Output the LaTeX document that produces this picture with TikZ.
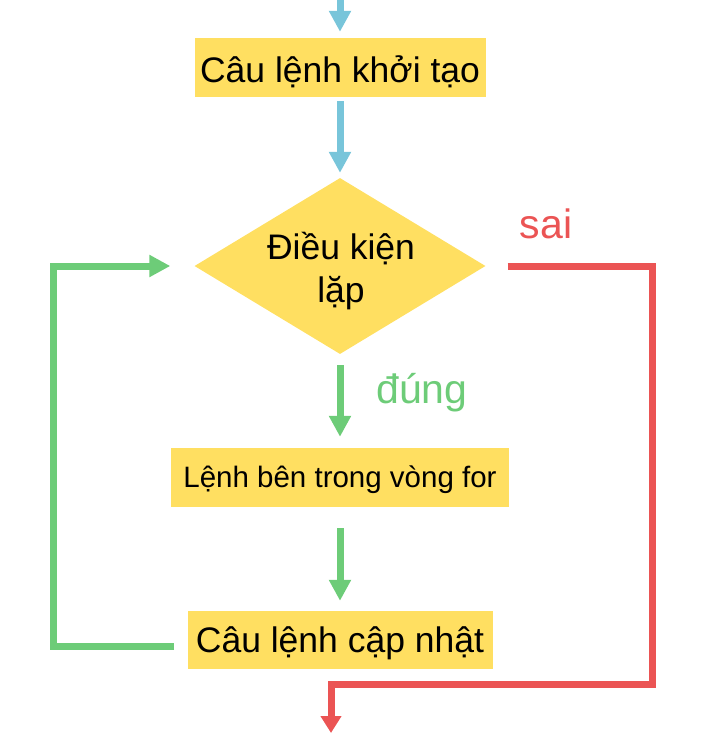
\documentclass[tikz,border=0pt]{standalone}
\usepackage{fontspec}
\setmainfont{Liberation Sans}
\usetikzlibrary{arrows.meta,shapes.geometric}
\definecolor{boxyellow}{HTML}{FFDF61}
\definecolor{arrowblue}{HTML}{78C5DA}
\definecolor{arrowgreen}{HTML}{6DCC78}
\definecolor{arrowred}{HTML}{EB5454}
\begin{document}
\begin{tikzpicture}[x=1pt,y=-1pt,
  bigtext/.style={font=\fontsize{35.5}{42}\selectfont},
  smalltext/.style={font=\fontsize{29.5}{35}\selectfont},
  labeltext/.style={font=\fontsize{41}{48}\selectfont, anchor=base},
  stepbox/.style={fill=boxyellow, inner sep=0pt, text depth=0pt},
  flow/.style={line width=7pt, line join=miter, -{Triangle[length=21pt,width=21pt]}},
  redflow/.style={line width=7pt, line join=miter, draw=arrowred, -{Triangle[length=17pt,width=20pt]}}
]
\useasboundingbox (0,0) rectangle (727,734);

% boxes
\node[stepbox, bigtext, minimum width=291pt, minimum height=59pt, text height=29pt] (init) at (340,67.5) {Câu lệnh khởi tạo};
\node[diamond, fill=boxyellow, inner sep=0pt, minimum width=291pt, minimum height=176pt] (cond) at (340,266) {};
\node[bigtext, anchor=base] (condA) at (341,259) {Điều kiện};
\node[bigtext, anchor=base] (condB) at (341,302) {lặp};
\node[stepbox, smalltext, minimum width=338pt, minimum height=59pt, text height=19pt] (body) at (340,477.5) {Lệnh bên trong vòng for};
\node[stepbox, bigtext, minimum width=305pt, minimum height=58pt, text height=24pt] (update) at (340,640) {Câu lệnh cập nhật};

% labels
\node[labeltext, text=arrowred] (sai) at (546,238) {sai};
\node[labeltext, text=arrowgreen] (dung) at (422,403) {đúng};

% coordinates
\coordinate (topin) at (340,-10);
\coordinate (loopstart) at (174,646);
\coordinate (loopcorner) at (53,266);
\coordinate (r1) at (652,266);
\coordinate (r2) at (652,684);
\coordinate (r3) at (331,684);
\coordinate (exit) at (331,733);

% connectors
\draw[flow, draw=arrowblue, shorten >=6pt] (topin) -- (init.north);
\draw[flow, draw=arrowblue, shorten <=4pt, shorten >=5pt] (init.south) -- (cond.north);
\draw[flow, draw=arrowgreen, shorten <=11pt, shorten >=11pt] (cond.south) -- (body.north);
\draw[flow, draw=arrowgreen, shorten <=21pt, shorten >=10pt] (body.south) -- (update.north);
\draw[flow, draw=arrowgreen, shorten >=24pt] (loopstart) -| (loopcorner) -- (cond.west);
\draw[redflow, shorten <=22pt] (cond.east) -- (r1) -- (r2) -- (r3) -- (exit);
\end{tikzpicture}
\end{document}
